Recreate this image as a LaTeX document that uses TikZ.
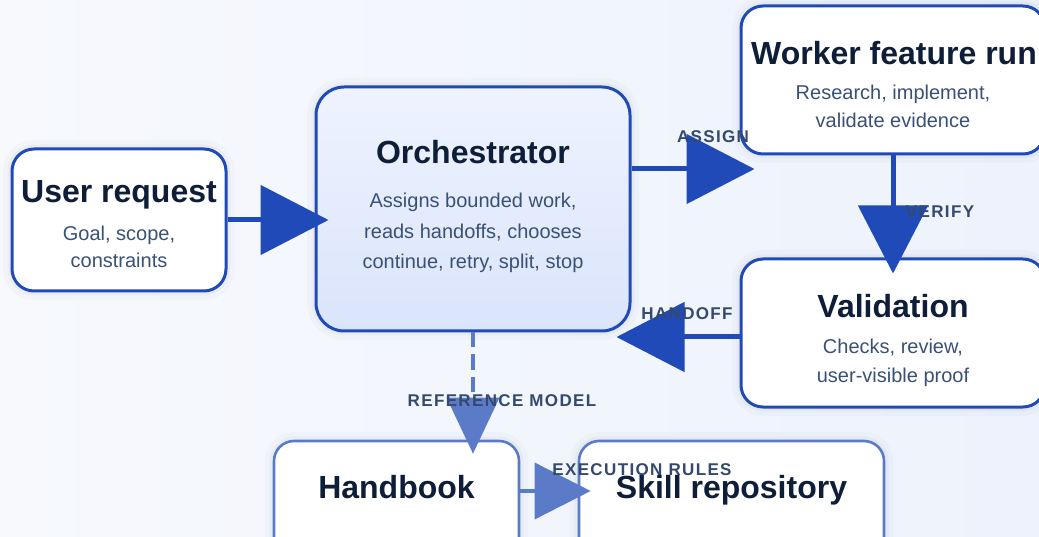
\documentclass[tikz,border=0pt]{standalone}
\usepackage{fontspec}
\setmainfont{Liberation Sans}
\newfontfamily\lblfont{Liberation Sans}[LetterSpace=8]
\usetikzlibrary{arrows.meta}
\definecolor{bgA}{HTML}{F7F9FD}
\definecolor{bgB}{HTML}{EDF2FC}
\definecolor{edge}{HTML}{1F4AB8}
\definecolor{edgeL}{HTML}{5B7BC8}
\definecolor{ttl}{HTML}{0F1E38}
\definecolor{subc}{HTML}{3A5176}
\definecolor{lbl}{HTML}{34496E}
\definecolor{orchA}{HTML}{EEF3FE}
\definecolor{orchB}{HTML}{DAE4FB}
\definecolor{shd}{HTML}{1B2C55}
\begin{document}
\begin{tikzpicture}[x=1pt,y=-1pt,
  box/.style={draw=edge, line width=3pt, fill=white, rounded corners=22pt, inner sep=0pt,
     preaction={draw=shd, line width=18pt, draw opacity=0.018},
     preaction={draw=shd, line width=9pt, draw opacity=0.03}},
  lbox/.style={box, draw=edgeL, line width=2.6pt, rounded corners=20pt},
  ttlt/.style={text=ttl, font=\bfseries\fontsize{32}{36}\selectfont, inner sep=0pt, anchor=base},
  subt/.style={text=subc, font=\fontsize{20}{28}\selectfont, inner sep=0pt, anchor=base},
  lblt/.style={text=lbl, font=\lblfont\bfseries\fontsize{17}{20}\selectfont, inner sep=0pt},
  flow/.style={draw=edge, line width=5pt, -{Triangle[length=68pt,width=69pt]}},
  lflow/.style={draw=edgeL, line width=3.5pt, dash pattern=on 15pt off 7pt, -{Triangle[length=56pt,width=52pt]}},
  lflowS/.style={draw=edgeL, line width=3.5pt, -{Triangle[length=56pt,width=56pt]}},
]
\useasboundingbox (0,0) rectangle (1039,537);
\begin{scope}
\clip (0,0) rectangle (1039,537);
\fill[left color=bgA, right color=bgB] (0,0) rectangle (1039,537);

% boxes
\node[box, minimum width=214pt, minimum height=142pt] (user) at (119,220) {};
\node[box, rounded corners=28pt, top color=orchA, bottom color=orchB, minimum width=314pt, minimum height=244pt] (orch) at (473,209) {};
\node[box, minimum width=304pt, minimum height=148pt] (worker) at (893,80) {};
\node[box, minimum width=304pt, minimum height=148pt] (valid) at (893,333) {};
\node[lbox, minimum width=245pt, minimum height=120pt] (hand) at (396.5,501) {};
\node[lbox, minimum width=305pt, minimum height=120pt] (skill) at (731.5,501) {};

% connectors
\draw[flow, shorten >=-14pt] (user.east) -- (user.east -| orch.west);
\coordinate (a1) at ([yshift=40pt]orch.east);
\draw[flow, shorten >=-15pt] (a1) -- (a1 -| worker.west);
\draw[flow, shorten >=-16pt] (worker.south) -- (valid.north);
\coordinate (h1) at ([yshift=-4pt]valid.west);
\draw[flow, shorten >=-15pt] (h1) -- (h1 -| orch.east);
\draw[lflow, shorten >=-14pt] (orch.south) -- (orch.south |- hand.north);
\coordinate (e1) at ([yshift=10pt]hand.east);
\draw[lflowS, shorten >=-13pt] (e1) -- (e1 -| skill.west);

% texts
\node[ttlt] (userT) at (119,203) {User request};
\node[subt] (userS1) at (119,241) {Goal, scope,};
\node[subt] (userS2) at (119,268) {constraints};

\node[ttlt] (orchT) at (473,164) {Orchestrator};
\node[subt] (orchS1) at (473,208) {Assigns bounded work,};
\node[subt] (orchS2) at (473,238.5) {reads handoffs, chooses};
\node[subt] (orchS3) at (473,268.5) {continue, retry, split, stop};

\node[ttlt] (workerT) at (894,65) {Worker feature run};
\node[subt] (workerS1) at (893,100) {Research, implement,};
\node[subt] (workerS2) at (893,128) {validate evidence};

\node[ttlt] (validT) at (893,318) {Validation};
\node[subt] (validS1) at (893,354) {Checks, review,};
\node[subt] (validS2) at (893,382) {user-visible proof};

\node[ttlt] (handT) at (396.5,498) {Handbook};
\node[ttlt] (skillT) at (731.5,498) {Skill repository};

% labels
\node[lblt] (lAssign) at (713,137) {ASSIGN};
\node[lblt] (lVerify) at (940,212) {VERIFY};
\node[lblt] (lHand) at (687,314) {HANDOFF};
\node[lblt] (lRef) at (502,400.5) {REFERENCE MODEL};
\node[lblt] (lExec) at (642,469.5) {EXECUTION RULES};
\end{scope}
\end{tikzpicture}
\end{document}
